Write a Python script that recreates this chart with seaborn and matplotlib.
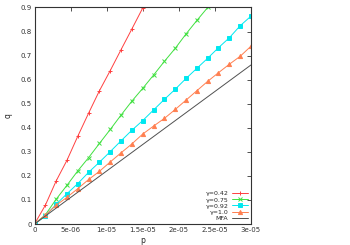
import pandas as pd
import seaborn as sns
import matplotlib.pyplot as plt

# p grid (step 1.5e-6) and q values
p_vals = [0, 1.5e-6, 3e-6, 4.5e-6, 6e-6, 7.5e-6, 9e-6, 1.05e-5, 1.2e-5, 1.35e-5, 1.5e-5,
          1.65e-5, 1.8e-5, 1.95e-5, 2.1e-5, 2.25e-5, 2.4e-5, 2.55e-5, 2.7e-5, 2.85e-5, 3e-5]
q_042 = [0, 0.078, 0.179, 0.265, 0.365, 0.461, 0.554, 0.638, 0.725, 0.811, 0.898]
q_075 = [0, 0.038, 0.103, 0.161, 0.221, 0.276, 0.335, 0.393, 0.453, 0.511, 0.564,
         0.619, 0.676, 0.730, 0.790, 0.846, 0.900]
q_092 = [0, 0.033, 0.082, 0.126, 0.168, 0.215, 0.257, 0.301, 0.346, 0.390, 0.430,
         0.474, 0.518, 0.560, 0.605, 0.647, 0.689, 0.733, 0.774, 0.824, 0.864]
q_10 = [0, 0.037, 0.078, 0.111, 0.147, 0.185, 0.219, 0.258, 0.296, 0.333, 0.374,
        0.407, 0.439, 0.476, 0.515, 0.554, 0.593, 0.629, 0.664, 0.697, 0.739]
mfa_p = [0, 3e-5]
mfa_q = [0, 0.661]

labels = ["γ=0.42", "γ=0.75", "γ=0.92", "γ=1.0"]
colors = ["#ff4040", "#40e040", "#00e8f0", "#ff7f50"]
markers = ["+", "x", "s", "^"]
xticks = [0, 5e-6, 1e-5, 1.5e-5, 2e-5, 2.5e-5, 3e-5]
xtick_labels = ["0", "5e-06", "1e-05", "1.5e-05", "2e-05", "2.5e-05", "3e-05"]
yticks = [0, 0.1, 0.2, 0.3, 0.4, 0.5, 0.6, 0.7, 0.8, 0.9]
ytick_labels = ["0", "0.1", "0.2", "0.3", "0.4", "0.5", "0.6", "0.7", "0.8", "0.9"]

sns.set_style("white")
plt.rcParams['font.family'] = ['DejaVu Sans']

fig = plt.figure(figsize=(3.5, 2.45), dpi=100)
ax = fig.add_axes([0.0986, 0.0857, 0.6184, 0.8837])

for lab, qs, c, m in zip(labels, [q_042, q_075, q_092, q_10], colors, markers):
    d = pd.DataFrame({"p": p_vals[:len(qs)], "q": qs})
    sns.lineplot(data=d, x="p", y="q", color=c, marker=m, linewidth=0.7,
                 markersize=3, markeredgewidth=0.7, markeredgecolor=c,
                 label=lab, ax=ax)
sns.lineplot(x=mfa_p, y=mfa_q, color="#505050", linewidth=0.7, label="MFA", ax=ax)

ax.set_xlim(0, 3e-5)
ax.set_ylim(0, 0.9)
ax.set_xticks(xticks)
ax.set_xticklabels(xtick_labels)
ax.set_yticks(yticks)
ax.set_yticklabels(ytick_labels)
ax.tick_params(direction="in", length=3, width=0.6, labelsize=5, pad=2,
               top=True, right=True, colors="#333333")
for s in ax.spines.values():
    s.set_linewidth(0.8)
    s.set_color("#333333")
ax.set_xlabel("p", fontsize=5.5, labelpad=2)
ax.set_ylabel("q", fontsize=5.5, labelpad=6)

handles, labs = ax.get_legend_handles_labels()
leg = ax.legend(handles, labs, loc="lower right", markerfirst=False, frameon=False,
                fontsize=4.5, labelspacing=0.12, handlelength=2.6, handletextpad=0.5,
                borderaxespad=0.3, borderpad=0.2)

fig.savefig("out.png", dpi=100)
